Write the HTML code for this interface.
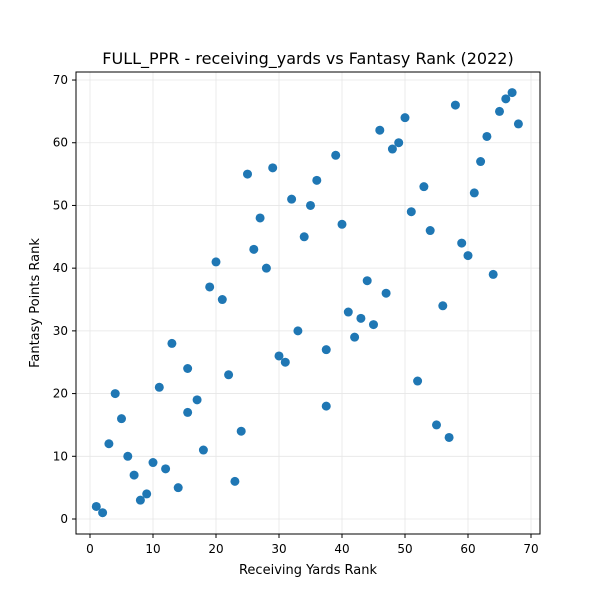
<!DOCTYPE html>
<html><head><meta charset="utf-8"><style>
body{margin:0;background:#fff;font-family:"Liberation Sans","DejaVu Sans",sans-serif}
svg text{font-family:"DejaVu Sans","Liberation Sans",sans-serif}
</style></head><body>
<svg id="chart" width="600" height="600" xmlns="http://www.w3.org/2000/svg">
<rect width="600" height="600" fill="#fff"/>
<g id="grid"></g>
<g id="pts"></g>
<rect x="76" y="72" width="464" height="462" fill="none" stroke="#000" stroke-width="1"/>
<g id="axes"></g>
<text x="308" y="64" text-anchor="middle" font-size="16">FULL_PPR - receiving_yards vs Fantasy Rank (2022)</text>
<text x="308" y="574" text-anchor="middle" font-size="13">Receiving Yards Rank</text>
<text transform="translate(39,303) rotate(-90)" text-anchor="middle" font-size="13">Fantasy Points Rank</text>
</svg>
<script>
const xVals=[1,2,3,4,5,6,7,8,9,10,11,12,13,14,15.5,15.5,17,18,19,20,21,22,23,24,25,26,27,28,29,30,31,32,33,34,35,36,37.5,37.5,39,40,41,42,43,44,45,46,47,48,49,50,51,52,53,54,55,56,57,58,59,60,61,62,63,64,65,66,67,68];
const yVals=[2,1,12,20,16,10,7,3,4,9,21,8,28,5,24,17,19,11,37,41,35,23,6,14,55,43,48,40,56,26,25,51,30,45,50,54,27,18,58,47,33,29,32,38,31,62,36,59,60,64,49,22,53,46,15,34,13,66,44,42,52,57,61,39,65,67,68,63];
const xTicks=[0,10,20,30,40,50,60,70];
const yTicks=[0,10,20,30,40,50,60,70];
const NS="http://www.w3.org/2000/svg";
const sx=v=>90+v*6.3, sy=v=>519-v*6.271;
const grid=document.getElementById('grid'),axes=document.getElementById('axes'),pts=document.getElementById('pts');
function mk(tag,attrs,parent){const e=document.createElementNS(NS,tag);for(const k in attrs)e.setAttribute(k,attrs[k]);parent.appendChild(e);return e;}
xTicks.forEach(t=>{
  const x=sx(t);
  const g=mk('line',{x1:x,x2:x,y1:72,y2:534,stroke:'#e6e6e6','stroke-width':0.8},grid);
  
  
  const tk=mk('line',{x1:x,x2:x,y1:534,y2:538,stroke:'#000'},axes);
  
  
  const l=mk('text',{x:x,y:553,'text-anchor':'middle','font-size':12},axes);
  l.textContent=t;
  
  
});
yTicks.forEach(t=>{
  const y=sy(t);
  const g=mk('line',{x1:76,x2:540,y1:y,y2:y,stroke:'#e6e6e6','stroke-width':0.8},grid);
  
  
  const tk=mk('line',{x1:72,x2:76,y1:y,y2:y,stroke:'#000'},axes);
  
  
  const l=mk('text',{x:68,y:y+4,'text-anchor':'end','font-size':12},axes);
  l.textContent=t;
  
  
});
xVals.forEach((v,i)=>{
  const c=mk('circle',{cx:sx(v),cy:sy(yVals[i]),r:4.5,fill:'#1f77b4'},pts);
  
  
});
</script>
</body></html>
